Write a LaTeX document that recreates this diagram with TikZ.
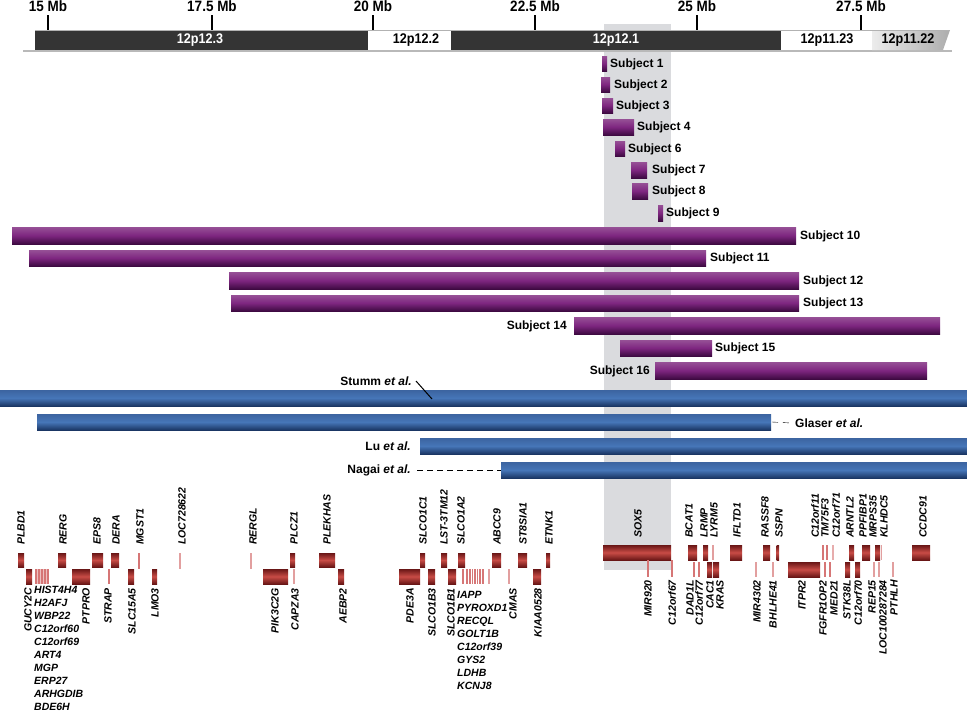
\documentclass[tikz,border=0pt]{standalone}
\usepackage{fontspec}
\setmainfont{Liberation Sans}
\newfontfamily\narrowsf[FakeStretch=0.9]{Liberation Sans}
\usepackage{tikz}
\definecolor{gmid}{RGB}{200,76,70}
\definecolor{gedge}{RGB}{105,22,22}
\definecolor{gthin}{RGB}{214,118,118}
\definecolor{pmid}{RGB}{126,38,128}
\definecolor{ptop}{RGB}{150,80,150}
\definecolor{pedge}{RGB}{62,10,66}
\definecolor{bmid}{RGB}{70,118,184}
\definecolor{btop}{RGB}{60,100,160}
\definecolor{bedge}{RGB}{26,54,100}
\definecolor{chrdark}{RGB}{52,52,52}
\definecolor{shadecol}{RGB}{218,219,222}

\begin{document}
\begin{tikzpicture}[x=1pt,y=-1pt,
  gbox/.style={top color=gedge,bottom color=gedge,middle color=gmid},
  gline/.style={draw=gthin,line width=1.1pt},
  subj/.style={top color=ptop,bottom color=pedge,middle color=pmid},
  lit/.style={top color=btop,bottom color=bedge,middle color=bmid},
  tick/.style={line width=1.8pt},
  mblab/.style={font=\narrowsf\bfseries\fontsize{15}{17}\selectfont,inner sep=0pt},
  bandlab/.style={font=\narrowsf\bfseries\fontsize{14}{16}\selectfont,inner sep=0pt},
  slab/.style={font=\bfseries\fontsize{12}{14}\selectfont,inner sep=0pt},
  uplab/.style={font=\bfseries\itshape\fontsize{10.5}{13}\selectfont,inner sep=0pt,rotate=90,anchor=west},
  lowlab/.style={font=\bfseries\itshape\fontsize{10.5}{13}\selectfont,inner sep=0pt,rotate=90,anchor=east},
  listlab/.style={font=\bfseries\itshape\fontsize{10.5}{13}\selectfont,inner sep=0pt,anchor=north west,align=left}]
\useasboundingbox (0,0) rectangle (967,712);
\fill[shadecol] (604,24) rectangle (671,570);

\draw[gray!55,line width=1.2pt] (23,51) -- (952,51);
\fill[chrdark] (35,30) rectangle (368,50);
\fill[white] (368,30) rectangle (451,50);
\fill[chrdark] (451,30) rectangle (781,50);
\fill[white] (781,30) rectangle (872,50);
\shade[left color=gray!15,right color=gray!65] (872,30) -- (950,30) -- (943,50) -- (872,50) -- cycle;
\draw[gray!60,line width=0.6pt] (35,30) -- (950,30);
\node[bandlab,white] (p123) at (200,40) {12p12.3};
\node[bandlab] (p122) at (416,40) {12p12.2};
\node[bandlab,white] (p121) at (616,40) {12p12.1};
\node[bandlab] (p1123) at (827,40) {12p11.23};
\node[bandlab] (p1122) at (908,40) {12p11.22};

\draw[tick] (48,15) -- (48,30);
\draw[tick] (212,15) -- (212,30);
\draw[tick] (373,15) -- (373,30);
\draw[tick] (535,15) -- (535,30);
\draw[tick] (697,15) -- (697,30);
\draw[tick] (861,15) -- (861,30);
\node[mblab] (mb15) at (48,6) {15 Mb};
\node[mblab] (mb175) at (212,6) {17.5 Mb};
\node[mblab] (mb20) at (373,6) {20 Mb};
\node[mblab] (mb225) at (535,6) {22.5 Mb};
\node[mblab] (mb25) at (697,6) {25 Mb};
\node[mblab] (mb275) at (861,6) {27.5 Mb};

\path[subj] (602,56) rectangle (607,71);
\path[subj] (601,77) rectangle (610,92);
\path[subj] (602,98) rectangle (613,113);
\path[subj] (603,119) rectangle (634,135);
\path[subj] (615,141) rectangle (625,156);
\path[subj] (631,162) rectangle (647,178);
\path[subj] (632,183) rectangle (648,199);
\path[subj] (658,205) rectangle (663,221);
\path[subj] (12,227) rectangle (796,244);
\path[subj] (29,250) rectangle (706,266);
\path[subj] (229,272) rectangle (799,289);
\path[subj] (231,295) rectangle (799,311);
\path[subj] (574,317) rectangle (940,334);
\path[subj] (620,340) rectangle (712,356);
\path[subj] (655,362) rectangle (927,379);
\node[slab,anchor=west] (s1) at (610,64) {Subject 1};
\node[slab,anchor=west] (s2) at (614,85) {Subject 2};
\node[slab,anchor=west] (s3) at (616,106) {Subject 3};
\node[slab,anchor=west] (s4) at (637,127) {Subject 4};
\node[slab,anchor=west] (s6) at (628,149) {Subject 6};
\node[slab,anchor=west] (s7) at (652,170) {Subject 7};
\node[slab,anchor=west] (s8) at (652,191) {Subject 8};
\node[slab,anchor=west] (s9) at (666,213) {Subject 9};
\node[slab,anchor=west] (s10) at (800,236) {Subject 10};
\node[slab,anchor=west] (s11) at (710,258) {Subject 11};
\node[slab,anchor=west] (s12) at (803,281) {Subject 12};
\node[slab,anchor=west] (s13) at (803,303) {Subject 13};
\node[slab,anchor=east] (s14) at (567,326) {Subject 14};
\node[slab,anchor=west] (s15) at (715,348) {Subject 15};
\node[slab,anchor=east] (s16) at (650,371) {Subject 16};

\path[lit] (0,390) rectangle (967,406);
\path[lit] (37,414) rectangle (771,430);
\path[lit] (420,438) rectangle (967,454);
\path[lit] (501,462) rectangle (967,478);
\node[slab,anchor=east] (stumm) at (412,381) {Stumm \textit{et al.}};
\node[slab,anchor=west] (glaser) at (795,423) {Glaser \textit{et al.}};
\node[slab,anchor=east] (lu) at (411,446) {Lu \textit{et al.}};
\node[slab,anchor=east] (nagai) at (411,470) {Nagai \textit{et al.}};
\coordinate (stummpt) at (432,399);
\coordinate (glaserend) at (772,422);
\coordinate (nagaistart) at (501,470);
\draw[line width=1pt] ([xshift=4pt]stumm.east) -- (stummpt);
\draw[dash pattern=on 6pt off 5pt] (glaserend) -- ([xshift=-4pt]glaser.west);
\draw[dash pattern=on 6pt off 4pt] ([xshift=6pt]nagai.east) -- (nagaistart);

\path[gbox] (18,553) rectangle (24,567);
\path[gbox] (58,553) rectangle (66,567);
\path[gbox] (92,553) rectangle (103,567);
\path[gbox] (111,553) rectangle (119,567);
\draw[gline] (139,553) -- (139,569);
\draw[gline,gthin!70] (180,553) -- (180,569);
\draw[gline,gthin!70] (251,553) -- (251,569);
\path[gbox] (290,553) rectangle (295,567);
\path[gbox] (319,553) rectangle (335,567);
\path[gbox] (420,553) rectangle (425,567);
\path[gbox] (441,553) rectangle (447,567);
\path[gbox] (458,553) rectangle (465,567);
\path[gbox] (492,553) rectangle (501,567);
\path[gbox] (518,553) rectangle (527,567);
\path[gbox] (546,553) rectangle (550,567);
\node[uplab] (plbd1) at (21,545) {PLBD1};
\node[uplab] (rerg) at (63,545) {RERG};
\node[uplab] (eps8) at (97,545) {EPS8};
\node[uplab] (dera) at (116,545) {DERA};
\node[uplab] (mgst1) at (140,545) {MGST1};
\node[uplab] (loc728622) at (182,545) {LOC728622};
\node[uplab] (rergl) at (253,545) {RERGL};
\node[uplab] (plcz1) at (294,545) {PLCZ1};
\node[uplab] (plekhas) at (327,545) {PLEKHAS};
\node[uplab] (slco1c1) at (423,545) {SLCO1C1};
\node[uplab] (lst3tm12) at (444,545) {LST-3TM12};
\node[uplab] (slco1a2) at (461,545) {SLCO1A2};
\node[uplab] (abcc9) at (497,545) {ABCC9};
\node[uplab] (st8sia1) at (523,545) {ST8SIA1};
\node[uplab] (etnk1) at (549,545) {ETNK1};

\path[gbox] (26,569) rectangle (32,584);
\fill[gthin!45] (35,569) rectangle (49,584);
\draw[gline] (36,569) -- (36,584);
\draw[gline] (39,569) -- (39,584);
\draw[gline] (42,569) -- (42,584);
\draw[gline] (45,569) -- (45,584);
\draw[gline] (48,569) -- (48,584);
\path[gbox] (72,569) rectangle (90,584);
\draw[gline] (109,569) -- (109,584);
\path[gbox] (128,569) rectangle (134,584);
\path[gbox] (152,569) rectangle (157,584);
\path[gbox] (263,569) rectangle (288,584);
\draw[gline,gthin!70] (294,569) -- (294,584);
\path[gbox] (338,569) rectangle (344,584);
\path[gbox] (399,569) rectangle (420,584);
\path[gbox] (428,569) rectangle (435,584);
\path[gbox] (448,569) rectangle (456,584);
\draw[gline] (463,569) -- (463,584);
\draw[gline] (467,569) -- (467,584);
\draw[gline] (470,569) -- (470,584);
\draw[gline] (472.5,569) -- (472.5,584);
\draw[gline] (475,569) -- (475,584);
\draw[gline] (477.5,569) -- (477.5,584);
\draw[gline] (480,569) -- (480,584);
\draw[gline] (483,569) -- (483,584);
\draw[gline,gthin!70] (489,569) -- (489,584);
\draw[gline,gthin!70] (509,569) -- (509,584);
\path[gbox] (533,569) rectangle (541,584);
\node[lowlab] (gucy2c) at (28,588) {GUCY2C};
\node[listlab] (hist4h4) at (34,586) {HIST4H4\\H2AFJ\\WBP22\\C12orf60\\C12orf69\\ART4\\MGP\\ERP27\\ARHGDIB\\BDE6H};
\node[lowlab] (ptpro) at (86,588) {PTPRO};
\node[lowlab] (strap) at (108,588) {STRAP};
\node[lowlab] (slc15a5) at (132,588) {SLC15A5};
\node[lowlab] (lmo3) at (155,588) {LMO3};
\node[lowlab] (pik3c2g) at (275,588) {PIK3C2G};
\node[lowlab] (capza3) at (295,588) {CAPZA3};
\node[lowlab] (aebp2) at (343,588) {AEBP2};
\node[lowlab] (pde3a) at (410,588) {PDE3A};
\node[lowlab] (slco1b3) at (432,588) {SLCO1B3};
\node[lowlab] (slco1b1) at (451,588) {SLCO1B1};
\node[listlab] (iapp) at (457,591) {IAPP\\PYROXD1\\RECQL\\GOLT1B\\C12orf39\\GYS2\\LDHB\\KCNJ8};
\node[lowlab] (cmas) at (513,588) {CMAS};
\node[lowlab] (kiaa0528) at (538,588) {KIAA0528};

\path[gbox] (603,545) rectangle (671,560);
\path[gbox] (688,545) rectangle (697,560);
\path[gbox] (703,545) rectangle (708,560);
\draw[gline,gthin!70] (713,545) -- (713,560);
\path[gbox] (730,545) rectangle (742,560);
\path[gbox] (763,545) rectangle (770,560);
\path[gbox] (776.5,545) rectangle (779,560);
\draw[gline] (823,545) -- (823,560);
\draw[gline] (827,545) -- (827,560);
\draw[gline,gthin!60] (833,545) -- (833,560);
\path[gbox] (849,545) rectangle (854,560);
\path[gbox] (862,545) rectangle (870,560);
\path[gbox] (875,545) rectangle (880,560);
\draw[gline,gthin!70] (881.5,545) -- (881.5,560);
\path[gbox] (912,545) rectangle (930,560);
\node[uplab] (sox5) at (638,538) {SOX5};
\node[uplab] (bcat1) at (689,538) {BCAT1};
\node[uplab] (lrmp) at (704,538) {LRMP};
\node[uplab] (lyrm5) at (714,538) {LYRM5};
\node[uplab] (ifltd1) at (737,538) {IFLTD1};
\node[uplab] (rassf8) at (765,538) {RASSF8};
\node[uplab] (sspn) at (779,538) {SSPN};
\node[uplab] (c12orf11) at (815,538) {C12orf11};
\node[uplab] (tm75f3) at (825,538) {TM75F3};
\node[uplab] (c12orf71) at (836,538) {C12orf71};
\node[uplab] (arntl2) at (850,538) {ARNTL2};
\node[uplab] (ppfibp1) at (863,538) {PPFIBP1};
\node[uplab] (mrps35) at (873,538) {MRPS35};
\node[uplab] (klhdc5) at (884,538) {KLHDC5};
\node[uplab] (ccdc91) at (923,538) {CCDC91};

\draw[gline] (648,560) -- (648,577);
\draw[gline] (672,560) -- (672,577);
\draw[gline] (694,562) -- (694,577);
\draw[gline] (699,562) -- (699,577);
\path[gbox] (707,562) rectangle (712,577);
\path[gbox] (713,562) rectangle (719,577);
\draw[gline,gthin!70] (756,562) -- (756,577);
\draw[gline,gthin!70] (773,562) -- (773,577);
\path[gbox] (788,562) rectangle (820,577);
\draw[gline] (825,562) -- (825,577);
\draw[gline] (830,562) -- (830,577);
\path[gbox] (845,562) rectangle (850,577);
\path[gbox] (855,562) rectangle (860,577);
\draw[gline,gthin!70] (874,562) -- (874,577);
\draw[gline,gthin!70] (879,562) -- (879,577);
\draw[gline,gthin!70] (893,562) -- (893,577);
\node[lowlab] (mir920) at (648,580) {MIR920};
\node[lowlab] (c12orf67) at (672,580) {C12orf67};
\node[lowlab] (dad1l) at (690,580) {DAD1L};
\node[lowlab] (c12orf77) at (699,580) {C12orf77};
\node[lowlab] (cac1) at (710,580) {CAC1};
\node[lowlab] (kras) at (720,580) {KRAS};
\node[lowlab] (mir4302) at (757,580) {MIR4302};
\node[lowlab] (bhlhe41) at (773,580) {BHLHE41};
\node[lowlab] (itpr2) at (802,580) {ITPR2};
\node[lowlab] (fgfr1op2) at (823,580) {FGFR1OP2};
\node[lowlab] (med21) at (834,580) {MED21};
\node[lowlab] (stk38l) at (847,580) {STK38L};
\node[lowlab] (c12orf70) at (858,580) {C12orf70};
\node[lowlab] (rep15) at (872,580) {REP15};
\node[lowlab] (loc100287284) at (883,580) {LOC100287284};
\node[lowlab] (pthlh) at (894,580) {PTHLH};
\end{tikzpicture}
\end{document}
